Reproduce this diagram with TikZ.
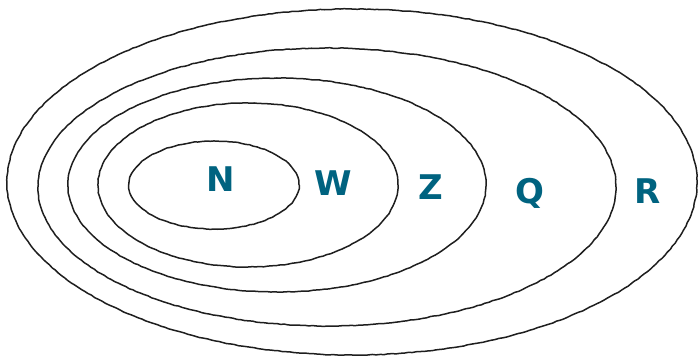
\documentclass[tikz,border=0pt]{standalone}
\usepackage{fontspec}
\usepackage{tikz}
\usetikzlibrary{decorations.pathmorphing}
\setsansfont{DejaVu Sans}
\definecolor{setc}{RGB}{0,99,128}
\definecolor{ringc}{RGB}{30,30,30}
\newcommand{\setring}[4]{%
  \draw[ringline] (#1,#2) ellipse [x radius=#3pt, y radius=#4pt];}

\begin{document}
\begin{tikzpicture}[x=1pt, y=-1pt,
  ringline/.style={draw=ringc, line width=1.5pt,
    decorate, decoration={random steps, segment length=4pt, amplitude=0.35pt}},
  setlbl/.style={font=\sffamily\bfseries\fontsize{34}{34}\selectfont,
    text=setc, anchor=base, inner sep=0pt}]
  \useasboundingbox (0,0) rectangle (698,358);
  % nested sets, outer to inner
  \setring{352}{182}{345}{173}
  \setring{327}{187}{289}{139}
  \setring{277}{185}{209}{107}
  \setring{248}{185}{150}{82}
  \setring{214}{185}{85}{44}
  \node[setlbl] (nlbl) at (221,192) {N};
  \node[setlbl] (wlbl) at (333,195) {W};
  \node[setlbl] (zlbl) at (431,200) {Z};
  \node[setlbl] (qlbl) at (530,203) {Q};
  \node[setlbl] (rlbl) at (648,203) {R};
\end{tikzpicture}
\end{document}
